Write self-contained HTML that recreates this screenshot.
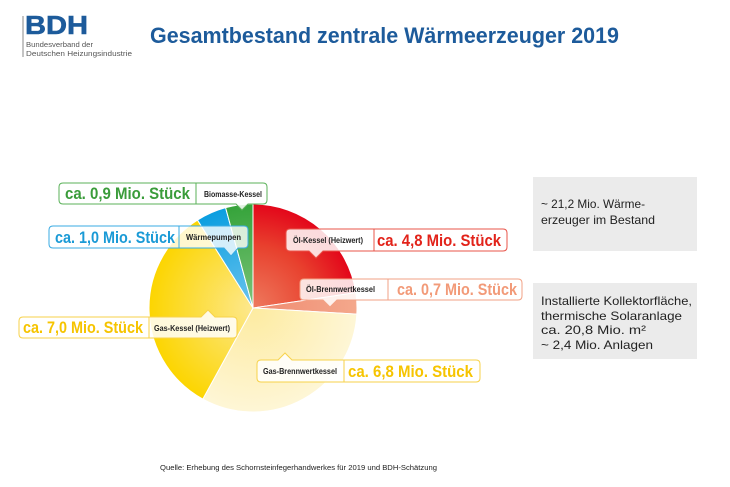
<!DOCTYPE html>
<html><head><meta charset="utf-8"><style>
html,body{margin:0;padding:0;background:#fff;}
svg{display:block;font-family:"Liberation Sans",sans-serif;}
</style></head><body>
<svg width="730" height="487" viewBox="0 0 730 487" xmlns="http://www.w3.org/2000/svg">
<defs>
<radialGradient id="gRed" cx="253" cy="308" r="104" gradientUnits="userSpaceOnUse">
<stop offset="0" stop-color="#ee7a5e"/><stop offset="0.6" stop-color="#e8412e"/><stop offset="1" stop-color="#e3061a"/></radialGradient>
<radialGradient id="gSal" cx="253" cy="308" r="104" gradientUnits="userSpaceOnUse">
<stop offset="0" stop-color="#ef8a70"/><stop offset="1" stop-color="#f4a88c"/></radialGradient>
<radialGradient id="gLY" cx="253" cy="308" r="104" gradientUnits="userSpaceOnUse">
<stop offset="0" stop-color="#fdeba0"/><stop offset="1" stop-color="#fef6d6"/></radialGradient>
<radialGradient id="gY" cx="253" cy="308" r="104" gradientUnits="userSpaceOnUse">
<stop offset="0" stop-color="#fde88e"/><stop offset="1" stop-color="#fcd500"/></radialGradient>
<radialGradient id="gB" cx="253" cy="308" r="104" gradientUnits="userSpaceOnUse">
<stop offset="0" stop-color="#6cc4ee"/><stop offset="1" stop-color="#0a9ee0"/></radialGradient>
<radialGradient id="gG" cx="253" cy="308" r="104" gradientUnits="userSpaceOnUse">
<stop offset="0" stop-color="#7cc47a"/><stop offset="1" stop-color="#35a33a"/></radialGradient>
</defs>

<!-- Logo -->
<line x1="23" y1="16" x2="23" y2="57" stroke="#8a8a8a" stroke-width="1"/>
<text x="25" y="34" font-size="26" font-weight="bold" fill="#1d5b9b" stroke="#1d5b9b" stroke-width="0.6" textLength="63" lengthAdjust="spacingAndGlyphs">BDH</text>
<text x="26" y="47" font-size="7.5" fill="#555" textLength="67" lengthAdjust="spacingAndGlyphs">Bundesverband der</text>
<text x="26" y="56" font-size="7.5" fill="#555" textLength="106" lengthAdjust="spacingAndGlyphs">Deutschen Heizungsindustrie</text>

<!-- Title -->
<text x="150" y="43" font-size="22" font-weight="bold" fill="#1d5b9b" textLength="469" lengthAdjust="spacingAndGlyphs">Gesamtbestand zentrale Wärmeerzeuger 2019</text>

<!-- Pie -->
<g stroke="#fff" stroke-width="1">
<path d="M253,308 L253,204 A104,104 0 0 1 355.86,292.65 Z" fill="url(#gRed)"/>
<path d="M253,308 L355.86,292.65 A104,104 0 0 1 356.82,314.17 Z" fill="url(#gSal)"/>
<path d="M253,308 L356.82,314.17 A104,104 0 0 1 202.79,399.07 Z" fill="url(#gLY)"/>
<path d="M253,308 L202.79,399.07 A104,104 0 0 1 197.49,220.06 Z" fill="url(#gY)"/>
<path d="M253,308 L197.49,220.06 A104,104 0 0 1 225.59,207.68 Z" fill="url(#gB)"/>
<path d="M253,308 L225.59,207.68 A104,104 0 0 1 253,204 Z" fill="url(#gG)"/>
</g>

<!-- Callout: Biomasse -->
<g>
<path d="M63,183 H263 Q267,183 267,187 V200 Q267,204 263,204 H248 L242,210 L236,204 H63 Q59,204 59,200 V187 Q59,183 63,183 Z" fill="#fff" fill-opacity="0.85" stroke="#5bb25a" stroke-width="1"/>
<line x1="196" y1="183" x2="196" y2="204" stroke="#5bb25a"/>
<text x="65" y="199" font-size="17" font-weight="bold" fill="#3a9c3a" textLength="125" lengthAdjust="spacingAndGlyphs">ca. 0,9 Mio. Stück</text>
<text x="204" y="197" font-size="8" font-weight="bold" fill="#222" textLength="58" lengthAdjust="spacingAndGlyphs">Biomasse-Kessel</text>
</g>

<!-- Callout: Wärmepumpen -->
<g>
<path d="M53,226 H244 Q248,226 248,230 V244 Q248,248 244,248 H238 L231,256 L224,248 H53 Q49,248 49,244 V230 Q49,226 53,226 Z" fill="#fff" fill-opacity="0.8" stroke="#3aabe3" stroke-width="1"/>
<line x1="179" y1="226" x2="179" y2="248" stroke="#3aabe3"/>
<text x="55" y="243" font-size="17" font-weight="bold" fill="#1a9ad6" textLength="120" lengthAdjust="spacingAndGlyphs">ca. 1,0 Mio. Stück</text>
<text x="186" y="240" font-size="8" font-weight="bold" fill="#222" textLength="55" lengthAdjust="spacingAndGlyphs">Wärmepumpen</text>
</g>

<!-- Callout: Öl-Kessel -->
<g>
<path d="M290,229 H503 Q507,229 507,233 V247 Q507,251 503,251 H323 L316,258 L309,251 H290 Q286,251 286,247 V233 Q286,229 290,229 Z" fill="#fff" fill-opacity="0.85" stroke="#e8544a" stroke-width="1"/>
<line x1="374" y1="229" x2="374" y2="251" stroke="#e8544a"/>
<text x="293" y="243" font-size="8" font-weight="bold" fill="#222" textLength="70" lengthAdjust="spacingAndGlyphs">Öl-Kessel (Heizwert)</text>
<text x="377" y="246" font-size="17" font-weight="bold" fill="#e2231a" textLength="124" lengthAdjust="spacingAndGlyphs">ca. 4,8 Mio. Stück</text>
</g>

<!-- Callout: Öl-Brennwert -->
<g>
<path d="M304,279 H518 Q522,279 522,283 V296 Q522,300 518,300 H337 L330,307 L323,300 H304 Q300,300 300,296 V283 Q300,279 304,279 Z" fill="#fff" fill-opacity="0.85" stroke="#f2a285" stroke-width="1"/>
<line x1="388" y1="279" x2="388" y2="300" stroke="#f2a285"/>
<text x="306" y="292" font-size="8" font-weight="bold" fill="#222" textLength="69" lengthAdjust="spacingAndGlyphs">Öl-Brennwertkessel</text>
<text x="397" y="295" font-size="17" font-weight="bold" fill="#f29a78" textLength="120" lengthAdjust="spacingAndGlyphs">ca. 0,7 Mio. Stück</text>
</g>

<!-- Callout: Gas-Kessel -->
<g>
<path d="M23,317 H201 L208,310 L215,317 H233 Q237,317 237,321 V334 Q237,338 233,338 H23 Q19,338 19,334 V321 Q19,317 23,317 Z" fill="#fff" fill-opacity="0.85" stroke="#f7d24a" stroke-width="1"/>
<line x1="149" y1="317" x2="149" y2="338" stroke="#f7d24a"/>
<text x="23" y="333" font-size="17" font-weight="bold" fill="#f6c400" textLength="120" lengthAdjust="spacingAndGlyphs">ca. 7,0 Mio. Stück</text>
<text x="154" y="331" font-size="8" font-weight="bold" fill="#222" textLength="76" lengthAdjust="spacingAndGlyphs">Gas-Kessel (Heizwert)</text>
</g>

<!-- Callout: Gas-Brennwert -->
<g>
<path d="M261,360 H278 L285,353 L292,360 H476 Q480,360 480,364 V378 Q480,382 476,382 H261 Q257,382 257,378 V364 Q257,360 261,360 Z" fill="#fff" fill-opacity="0.85" stroke="#f7d24a" stroke-width="1"/>
<line x1="344" y1="360" x2="344" y2="382" stroke="#f7d24a"/>
<text x="263" y="374" font-size="8" font-weight="bold" fill="#222" textLength="74" lengthAdjust="spacingAndGlyphs">Gas-Brennwertkessel</text>
<text x="348" y="377" font-size="17" font-weight="bold" fill="#f6c400" textLength="125" lengthAdjust="spacingAndGlyphs">ca. 6,8 Mio. Stück</text>
</g>

<!-- Gray info boxes -->
<rect x="533" y="177" width="164" height="74" fill="#ebebeb"/>
<text x="541" y="208" font-size="12" fill="#222" textLength="104" lengthAdjust="spacingAndGlyphs">~ 21,2 Mio. Wärme-</text>
<text x="541" y="224" font-size="12" fill="#222" textLength="114" lengthAdjust="spacingAndGlyphs">erzeuger im Bestand</text>

<rect x="533" y="283" width="164" height="76" fill="#ebebeb"/>
<text x="541" y="305" font-size="12" fill="#222" textLength="151" lengthAdjust="spacingAndGlyphs">Installierte Kollektorfläche,</text>
<text x="541" y="320" font-size="12" fill="#222" textLength="141" lengthAdjust="spacingAndGlyphs">thermische Solaranlage</text>
<text x="541" y="334" font-size="12" fill="#222" textLength="105" lengthAdjust="spacingAndGlyphs">ca. 20,8 Mio. m²</text>
<text x="541" y="349" font-size="12" fill="#222" textLength="112" lengthAdjust="spacingAndGlyphs">~ 2,4 Mio. Anlagen</text>

<!-- Footer -->
<text x="160" y="470" font-size="7" fill="#222" textLength="277" lengthAdjust="spacingAndGlyphs">Quelle: Erhebung des Schornsteinfegerhandwerkes für 2019 und BDH-Schätzung</text>
</svg>
</body></html>
